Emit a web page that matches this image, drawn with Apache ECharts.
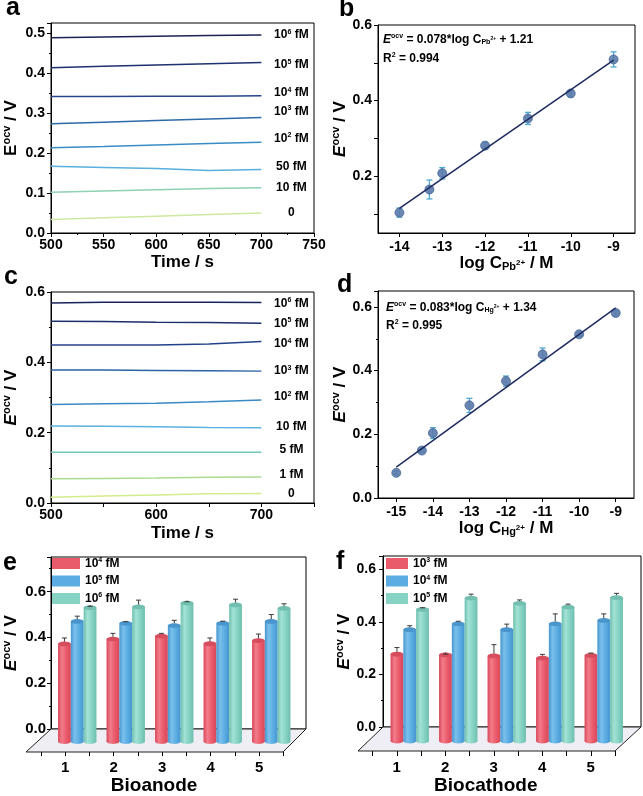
<!DOCTYPE html>
<html><head><meta charset="utf-8">
<script src="https://cdn.jsdelivr.net/npm/echarts@6/dist/echarts.min.js"></script>
<style>html,body{margin:0;padding:0;background:#fff}#c{width:643px;height:796px}</style>
</head><body><div id="c"></div>
<script>
// ---------------- DATA ----------------
// Panel a: OCV vs time (Pb2+)
const aTime = [500, 550, 600, 650, 700];
const aConc = ['10^6 fM', '10^5 fM', '10^4 fM', '10^3 fM', '10^2 fM', '50 fM', '10 fM', '0'];
const a_1e6 = [0.488, 0.490, 0.492, 0.494, 0.495];
const a_1e5 = [0.413, 0.417, 0.420, 0.423, 0.426];
const a_1e4 = [0.341, 0.341, 0.342, 0.342, 0.343];
const a_1e3 = [0.273, 0.277, 0.281, 0.285, 0.289];
const a_1e2 = [0.213, 0.216, 0.220, 0.224, 0.227];
const a_50  = [0.167, 0.164, 0.161, 0.156, 0.159];
const a_10  = [0.102, 0.105, 0.108, 0.111, 0.113];
const a_0   = [0.034, 0.038, 0.042, 0.046, 0.050];
const aValues = [a_1e6, a_1e5, a_1e4, a_1e3, a_1e2, a_50, a_10, a_0];
const aXTicks = [500, 550, 600, 650, 700, 750];

// Panel b: calibration Pb2+
const bLogC = [-14, -13.3, -13, -12, -11, -10, -9];
const bE    = [0.104, 0.165, 0.208, 0.281, 0.353, 0.419, 0.509];
const bErr  = [0.012, 0.025, 0.015, 0.009, 0.016, 0.008, 0.020];
const bFitX = [-14, -9];
const bFitY = [0.115, 0.507];
const bXTicks = [-14, -13, -12, -11, -10, -9];
const bYLabels = [0.2, 0.4, 0.6];
const bYTicks = [0.1, 0.2, 0.3, 0.4, 0.5, 0.6];
const bEquation = ['E^ocv = 0.078*log C_Pb2+ + 1.21', 'R^2 = 0.994'];

// Panel c: OCV vs time (Hg2+)
const cTime = [500, 550, 600, 650, 700];
const cConc = ['10^6 fM', '10^5 fM', '10^4 fM', '10^3 fM', '10^2 fM', '10 fM', '5 fM', '1 fM', '0'];
const c_1e6 = [0.569, 0.571, 0.571, 0.571, 0.570];
const c_1e5 = [0.517, 0.516, 0.514, 0.513, 0.511];
const c_1e4 = [0.449, 0.449, 0.449, 0.452, 0.459];
const c_1e3 = [0.378, 0.378, 0.377, 0.376, 0.375];
const c_1e2 = [0.280, 0.282, 0.284, 0.288, 0.293];
const c_10  = [0.219, 0.218, 0.217, 0.215, 0.214];
const c_5   = [0.144, 0.144, 0.144, 0.144, 0.144];
const c_1   = [0.069, 0.070, 0.071, 0.073, 0.074];
const c_0   = [0.016, 0.020, 0.023, 0.026, 0.027];
const cValues = [c_1e6, c_1e5, c_1e4, c_1e3, c_1e2, c_10, c_5, c_1, c_0];
const cXLabels = [500, 600, 700];

// Panel d: calibration Hg2+
const dLogC = [-15, -14.3, -14, -13, -12, -11, -10, -9];
const dE    = [0.079, 0.149, 0.204, 0.291, 0.367, 0.451, 0.514, 0.581];
const dErr  = [0.005, 0.005, 0.017, 0.022, 0.016, 0.020, 0.006, 0.007];
const dFitX = [-15, -9];
const dFitY = [0.097, 0.597];
const dXTicks = [-15, -14, -13, -12, -11, -10, -9];
const dEquation = ['E^ocv = 0.083*log C_Hg2+ + 1.34', 'R^2 = 0.995'];

// Panel e: Bioanode reproducibility
const eCats = ['1', '2', '3', '4', '5'];
const eLegend = ['10^4 fM', '10^5 fM', '10^6 fM'];
const e_1e4 = [0.371, 0.392, 0.405, 0.372, 0.385];
const e_1e4err = [0.026, 0.025, 0.012, 0.025, 0.029];
const e_1e5 = [0.469, 0.461, 0.451, 0.461, 0.469];
const e_1e5err = [0.023, 0.007, 0.023, 0.009, 0.030];
const e_1e6 = [0.529, 0.532, 0.549, 0.541, 0.526];
const e_1e6err = [0.006, 0.030, 0.006, 0.025, 0.020];

// Panel f: Biocathode reproducibility
const fCats = ['1', '2', '3', '4', '5'];
const fLegend = ['10^3 fM', '10^4 fM', '10^5 fM'];
const f_1e3 = [0.277, 0.274, 0.270, 0.262, 0.272];
const f_1e3err = [0.025, 0.003, 0.043, 0.014, 0.009];
const f_1e4 = [0.370, 0.392, 0.370, 0.392, 0.405];
const f_1e4err = [0.015, 0.010, 0.021, 0.038, 0.025];
const f_1e5 = [0.447, 0.490, 0.470, 0.456, 0.492];
const f_1e5err = [0.006, 0.015, 0.013, 0.011, 0.016];

// ---------------- STYLE ----------------
const FF = '"Liberation Sans", Arial, Helvetica, sans-serif';
const aColors = ['#1b2355', '#1e3170', '#26458a', '#2d6aa8', '#3a8cc6', '#58b0de', '#8ed2b3', '#cde9a0'];
const cColors = ['#1a2357', '#1d2f6b', '#24428b', '#2b63a3', '#3a8ac6', '#5ab2e0', '#72c8b8', '#a9dc8e', '#d3ec8c'];
const aLabelDy = [0, 2, -3, -6, -4, -3, 0, 0];
const cLabelDy = [1, 0, 2, 0, -3, -1, -3, -2, 0];
const barColors = [
  {base: '#e95b6b', light: '#f27c8a', dark: '#d9475a', top: '#d64e5e'},
  {base: '#5aace2', light: '#7cc0ec', dark: '#4696cf', top: '#4a96cc'},
  {base: '#86d3c3', light: '#a3e2d5', dark: '#6fbfae', top: '#72bfaf'}
];

function R(fs) {
  const s = Math.round(fs * 0.62);
  return {
    i: {fontSize: fs, fontStyle: 'italic', fontWeight: 'bold', fontFamily: FF, color: '#000'},
    s: {fontSize: s, fontWeight: 'bold', fontFamily: FF, color: '#000', padding: [0, 0, Math.round(fs * 0.5), 0]},
    b: {fontSize: s, fontWeight: 'bold', fontFamily: FF, color: '#000', padding: [Math.round(fs * 0.45), 0, 0, 0]},
    bs: {fontSize: Math.round(fs * 0.45), fontWeight: 'bold', fontFamily: FF, color: '#000', padding: [0, 0, Math.round(fs * 0.1), 0]}
  };
}
// convert simple markup into rich text
function toRich(t, italicE) {
  let r = t;
  r = r.replace(/_([A-Za-z]+)(\d\+)/g, '{b|$1}{bs|$2}');
  r = r.replace(/\^([0-9a-z]+)/g, '{s|$1}');
  if (italicE) r = r.replace(/^E/, '{i|E}');
  return r;
}
function merge(a, b) {
  const o = Object.assign({}, a);
  for (const k in b) {
    const bv = b[k], av = a[k];
    if (bv && typeof bv === 'object' && !Array.isArray(bv) && av && typeof av === 'object' && !Array.isArray(av)) o[k] = merge(av, bv);
    else o[k] = bv;
  }
  return o;
}
const AX = {
  type: 'value',
  axisLine: {show: true, onZero: false, lineStyle: {color: '#000', width: 1}},
  axisTick: {show: true, inside: false, length: 4, lineStyle: {color: '#000', width: 1}},
  minorTick: {show: false},
  axisLabel: {color: '#000', fontSize: 14, fontWeight: 'bold', fontFamily: FF, margin: 6},
  splitLine: {show: false},
  nameLocation: 'middle',
  nameTextStyle: {color: '#000', fontSize: 17, fontWeight: 'bold', fontFamily: FF, rich: R(17)}
};
const MINOR = {show: true, splitNumber: 2, length: 2, lineStyle: {color: '#000', width: 1}};
const HID = (g, extra) => Object.assign({type: 'value', gridIndex: g, show: false, min: 0, max: 1}, extra || {});
const GB = {show: true, borderColor: '#000', borderWidth: 1, backgroundColor: 'transparent'};
const fmt1 = v => v.toFixed(1);

// ---------------- RENDERERS ----------------
function errRender(color, cap) {
  return function (params, api) {
    const x = api.value(0), y = api.value(1), e = api.value(2);
    const hi = api.coord([x, y + e]), lo = api.coord([x, y - e]);
    const st = {stroke: color, lineWidth: 1.3};
    return {type: 'group', children: [
      {type: 'line', shape: {x1: hi[0], y1: hi[1], x2: lo[0], y2: lo[1]}, style: st},
      {type: 'line', shape: {x1: hi[0] - cap, y1: hi[1], x2: hi[0] + cap, y2: hi[1]}, style: st},
      {type: 'line', shape: {x1: lo[0] - cap, y1: lo[1], x2: lo[0] + cap, y2: lo[1]}, style: st}
    ]};
  };
}
function cylRender(k, col, depth) {
  return function (params, api) {
    const ci = api.value(0), v = api.value(1), e = api.value(2);
    const c0 = api.coord([ci, 0]);
    const band = api.size([1, 0])[0];
    const w = band * 0.264;
    const cx = c0[0] + (k - 1) * w;
    const top = api.coord([ci, v])[1];
    const base = c0[1] + depth;
    const et = api.coord([ci, v + e])[1];
    const ry = 2.4;
    const grad = new echarts.graphic.LinearGradient(0, 0, 1, 0, [
      {offset: 0, color: col.dark}, {offset: 0.3, color: col.light},
      {offset: 0.65, color: col.base}, {offset: 1, color: col.dark}]);
    const es = {stroke: '#3a3a3a', lineWidth: 1};
    return {type: 'group', children: [
      {type: 'rect', shape: {x: cx - w / 2, y: top, width: w, height: base - top}, style: {fill: grad}},
      {type: 'ellipse', shape: {cx: cx, cy: base, rx: w / 2, ry: ry}, style: {fill: grad}},
      {type: 'ellipse', shape: {cx: cx, cy: top, rx: w / 2, ry: ry}, style: {fill: col.top}},
      {type: 'line', shape: {x1: cx, y1: top - ry, x2: cx, y2: et}, style: es},
      {type: 'line', shape: {x1: cx - 2.5, y1: et, x2: cx + 2.5, y2: et}, style: es}
    ]};
  };
}

// ---------------- SERIES ----------------
const series = [];
aValues.forEach((vals, i) => {
  series.push({
    type: 'line', xAxisIndex: 0, yAxisIndex: 0, showSymbol: false, silent: true,
    data: aTime.map((t, j) => [t, vals[j]]),
    lineStyle: {color: aColors[i], width: 1.5}, itemStyle: {color: aColors[i]},
    endLabel: {show: true, formatter: () => toRich(aConc[i]), distance: 30, align: 'center', offset: [0, aLabelDy[i]],
      color: '#000', fontSize: 12, fontWeight: 'bold', fontFamily: FF, rich: R(12)}
  });
});
cValues.forEach((vals, i) => {
  series.push({
    type: 'line', xAxisIndex: 2, yAxisIndex: 2, showSymbol: false, silent: true,
    data: cTime.map((t, j) => [t, vals[j]]),
    lineStyle: {color: cColors[i], width: 1.5}, itemStyle: {color: cColors[i]},
    endLabel: {show: true, formatter: () => toRich(cConc[i]), distance: 30, align: 'center', offset: [0, cLabelDy[i]],
      color: '#000', fontSize: 12, fontWeight: 'bold', fontFamily: FF, rich: R(12)}
  });
});
function calib(xi, X, Y, E, FX, FY) {
  series.push({type: 'line', xAxisIndex: xi, yAxisIndex: xi, showSymbol: false, silent: true,
    data: FX.map((x, j) => [x, FY[j]]), lineStyle: {color: '#1c2a5e', width: 1.5}});
  series.push({type: 'custom', xAxisIndex: xi, yAxisIndex: xi, silent: true, encode: {x: 0, y: 1},
    data: X.map((x, j) => [x, Y[j], E[j]]), renderItem: errRender('#4fa8cf', 3)});
  series.push({type: 'scatter', xAxisIndex: xi, yAxisIndex: xi, symbol: 'circle', symbolSize: 9, silent: true,
    data: X.map((x, j) => [x, Y[j]]),
    itemStyle: {color: '#5a7aab', opacity: 0.9, borderColor: '#3f5f90', borderWidth: 0.8}});
}
calib(1, bLogC, bE, bErr, bFitX, bFitY);
calib(3, dLogC, dE, dErr, dFitX, dFitY);

function bars(prefix, ai, legendNames, vals, errs, depth) {
  legendNames.forEach((nm, k) => {
    series.push({type: 'custom', name: prefix + '|' + nm, xAxisIndex: ai, yAxisIndex: ai, silent: true,
      encode: {x: 0, y: 1}, itemStyle: {color: barColors[k].base},
      data: vals[k].map((v, j) => [j, v, errs[k][j]]), renderItem: cylRender(k, barColors[k], depth)});
  });
}
bars('e', 5, eLegend, [e_1e4, e_1e5, e_1e6], [e_1e4err, e_1e5err, e_1e6err], 12.5);
bars('f', 8, fLegend, [f_1e3, f_1e4, f_1e5], [f_1e3err, f_1e4err, f_1e5err], 14);

// ---------------- AXES ----------------
const xAxis = [
  merge(AX, {gridIndex: 0, min: 500, max: 750, interval: 50, minorTick: MINOR, axisLabel: {margin: 5},
    name: 'Time / s', nameGap: 21}),
  merge(AX, {gridIndex: 1, min: -14.5, max: -8.5, axisTick: {customValues: bXTicks}, axisLabel: {customValues: bXTicks, margin: 7},
    name: toRich('log C_Pb2+ / M'), nameGap: 19}),
  merge(AX, {gridIndex: 2, min: 500, max: 750, interval: 50, axisLabel: {margin: 5,
    formatter: v => cXLabels.indexOf(v) >= 0 ? String(v) : ''}, name: 'Time / s', nameGap: 22}),
  merge(AX, {gridIndex: 3, min: -15.5, max: -8.5, axisTick: {customValues: dXTicks}, axisLabel: {customValues: dXTicks, margin: 7},
    name: toRich('log C_Hg2+ / M'), nameGap: 19}),
  HID(4),
  {type: 'category', gridIndex: 5, data: eCats, show: false},
  merge(AX, {gridIndex: 6, min: 0.5, max: 5.5, interval: 0.5, axisLine: {show: false},
    axisTick: {length: 5}, axisLabel: {fontSize: 15, margin: 9,
      formatter: v => Number.isInteger(v) ? eCats[v - 1] : ''},
    name: 'Bioanode', nameGap: 20, nameTextStyle: {fontSize: 19, padding: [0, 16, 0, 0]}}),
  HID(7),
  {type: 'category', gridIndex: 8, data: fCats, show: false},
  merge(AX, {gridIndex: 9, min: 0.5, max: 5.5, interval: 0.5, axisLine: {show: false},
    axisTick: {length: 5}, axisLabel: {fontSize: 15, margin: 9,
      formatter: v => Number.isInteger(v) ? fCats[v - 1] : ''},
    name: 'Biocathode', nameGap: 20, nameTextStyle: {fontSize: 19, padding: [0, 16, 0, 0]}})
];
const yAxis = [
  merge(AX, {gridIndex: 0, min: 0, max: 0.525, interval: 0.1, minorTick: MINOR,
    axisLabel: {formatter: fmt1, showMaxLabel: false}, name: 'E{s|ocv} / V', nameGap: 30}),
  merge(AX, {gridIndex: 1, min: 0.05, max: 0.6, axisTick: {customValues: bYTicks},
    axisLabel: {customValues: bYLabels, formatter: fmt1}, name: '{i|E}{s|ocv} / V', nameGap: 28}),
  merge(AX, {gridIndex: 2, min: 0, max: 0.6, interval: 0.2, minorTick: MINOR,
    axisLabel: {formatter: fmt1}, name: '{i|E}{s|ocv} / V', nameGap: 30}),
  merge(AX, {gridIndex: 3, min: 0, max: 0.65, interval: 0.2, minorTick: MINOR,
    axisLabel: {formatter: fmt1, showMaxLabel: false}, name: '{i|E}{s|ocv} / V', nameGap: 28}),
  merge(AX, {gridIndex: 4, min: 0, max: 0.75, interval: 0.2, minorTick: MINOR,
    axisLabel: {formatter: fmt1, showMaxLabel: false, fontSize: 15, margin: 5}, name: '{i|E}{s|ocv} / V', nameGap: 30}),
  HID(5, {max: 0.75}),
  HID(6),
  merge(AX, {gridIndex: 7, min: 0, max: 0.65, interval: 0.2, minorTick: MINOR,
    axisLabel: {formatter: fmt1, showMaxLabel: false, margin: 7}, name: '{i|E}{s|ocv} / V', nameGap: 28}),
  HID(8, {max: 0.65}),
  HID(9)
];

const grid = [
  Object.assign({left: 51, top: 23, width: 263, height: 210}, GB),
  Object.assign({left: 378, top: 25, width: 257, height: 208}, GB),
  Object.assign({left: 51, top: 292, width: 263, height: 211}, GB),
  Object.assign({left: 378, top: 291, width: 256, height: 207}, GB),
  Object.assign({left: 51, top: 557, width: 255, height: 172}, GB),
  {left: 53, top: 557, width: 242.5, height: 172},
  {left: 40.8, top: 557, width: 242.5, height: 195},
  Object.assign({left: 383, top: 556, width: 258, height: 171}, GB),
  {left: 385.5, top: 556, width: 242.5, height: 171},
  {left: 372.5, top: 556, width: 242.5, height: 195}
];

const legendText = {color: '#000', fontSize: 12, fontWeight: 'bold', fontFamily: FF, rich: R(12)};
const legend = [
  {data: eLegend.map(n => 'e|' + n), left: 52, top: 557, orient: 'vertical', itemWidth: 28, itemHeight: 11, itemGap: 5,
    icon: 'rect', padding: 0, selectedMode: false, textStyle: legendText, formatter: n => toRich(n.split('|')[1])},
  {data: fLegend.map(n => 'f|' + n), left: 386, top: 557, orient: 'vertical', itemWidth: 22, itemHeight: 11, itemGap: 5,
    icon: 'rect', padding: 0, selectedMode: false, textStyle: legendText, formatter: n => toRich(n.split('|')[1])}
];

const letterStyle = {color: '#000', fontSize: 25, fontWeight: 'bold', fontFamily: FF};
const eqStyle = {color: '#000', fontSize: 12, fontWeight: 'bold', fontFamily: FF, rich: R(12)};
const title = [
  {text: 'a', left: 6, top: -4, padding: 0, textStyle: letterStyle},
  {text: 'b', left: 339, top: -3, padding: 0, textStyle: letterStyle},
  {text: 'c', left: 4, top: 265, padding: 0, textStyle: letterStyle},
  {text: 'd', left: 337, top: 273, padding: 0, textStyle: letterStyle},
  {text: 'e', left: 3, top: 551, padding: 0, textStyle: letterStyle},
  {text: 'f', left: 336, top: 550, padding: 0, textStyle: letterStyle},
  {text: toRich(bEquation[0], true), left: 383, top: 33, padding: 0, textStyle: eqStyle},
  {text: toRich(bEquation[1], true), left: 383, top: 52, padding: 0, textStyle: eqStyle},
  {text: toRich(dEquation[0], true), left: 386, top: 301, padding: 0, textStyle: eqStyle},
  {text: toRich(dEquation[1], true), left: 386, top: 319, padding: 0, textStyle: eqStyle}
];

const floorStyle = {fill: '#eeeef4', stroke: '#222', lineWidth: 1};
const graphic = [
  {type: 'polygon', z: 1, shape: {points: [[51, 729], [306, 729], [283, 752], [26, 752]]}, style: floorStyle},
  {type: 'polygon', z: 1, shape: {points: [[383, 727], [641, 727], [615, 751], [358, 751]]}, style: floorStyle}
];

const chart = echarts.init(document.getElementById('c'), null, {renderer: 'canvas'});
chart.setOption({animation: false, backgroundColor: '#fff', title, legend, grid, xAxis, yAxis, series, graphic});
</script></body></html>
